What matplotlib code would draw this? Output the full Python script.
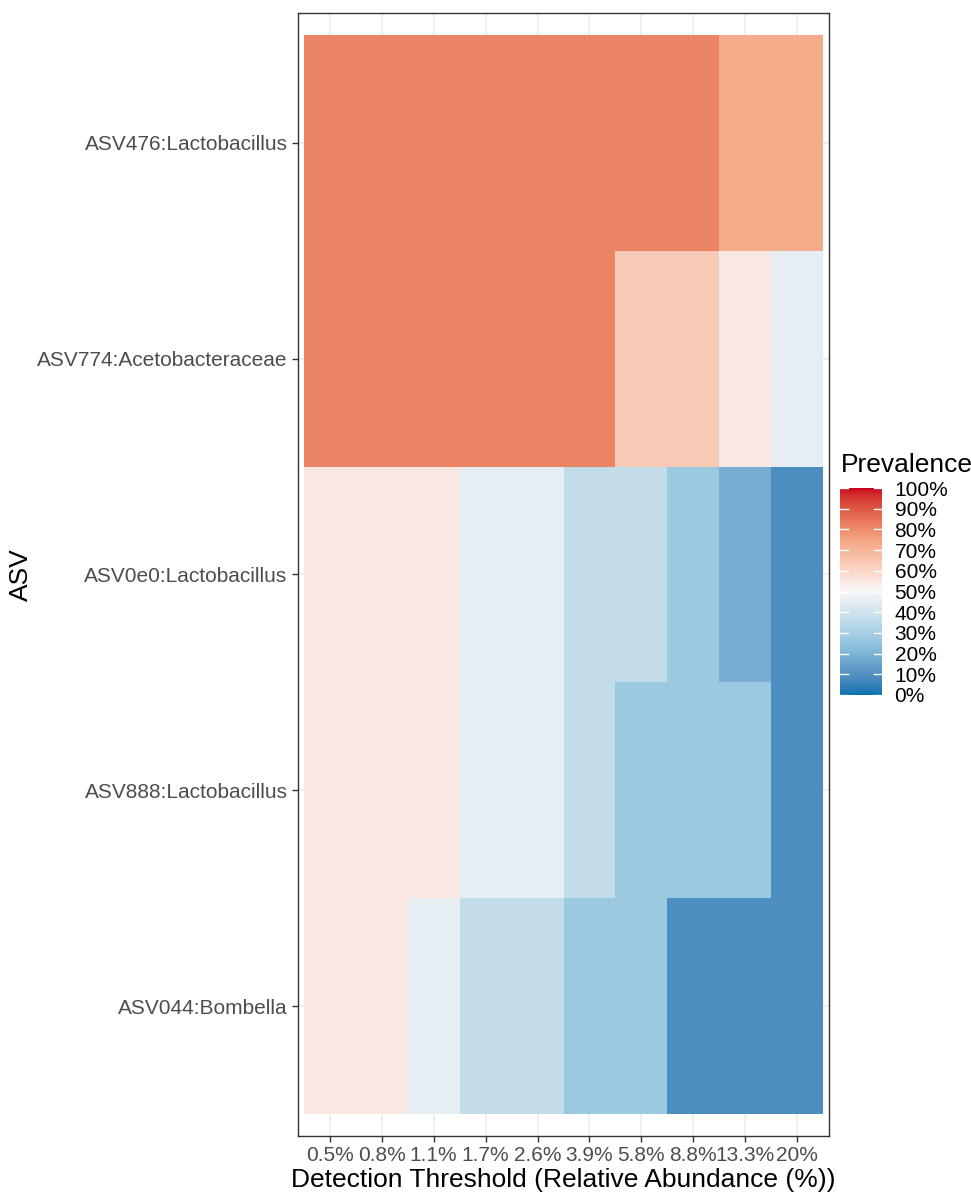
import numpy as np
import matplotlib
matplotlib.use("Agg")
import matplotlib.pyplot as plt
from matplotlib import colors

plt.rcParams['font.family'] = ['Liberation Sans', 'DejaVu Sans']

# thresholds (x) and taxa (y, top to bottom)
thresholds = ['0.5%', '0.8%', '1.1%', '1.7%', '2.6%', '3.9%', '5.8%', '8.8%', '13.3%', '20%']
asvs = ['ASV476:Lactobacillus', 'ASV774:Acetobacteraceae', 'ASV0e0:Lactobacillus',
        'ASV888:Lactobacillus', 'ASV044:Bombella']

# prevalence (%) per taxon, one value per threshold
asv476 = [81.8, 81.8, 81.8, 81.8, 81.8, 81.8, 81.8, 81.8, 72.7, 72.7]
asv774 = [81.8, 81.8, 81.8, 81.8, 81.8, 81.8, 63.6, 63.6, 54.5, 45.5]
asv0e0 = [54.5, 54.5, 54.5, 45.5, 45.5, 36.4, 36.4, 27.3, 18.2, 9.1]
asv888 = [54.5, 54.5, 54.5, 45.5, 45.5, 36.4, 27.3, 27.3, 27.3, 9.1]
asv044 = [54.5, 54.5, 45.5, 36.4, 36.4, 27.3, 27.3, 9.1, 9.1, 9.1]

legend_ticks = [0, 10, 20, 30, 40, 50, 60, 70, 80, 90, 100]
stops = ['#0571B0', '#92C5DE', '#F7F7F7', '#F4A582', '#CA0020']


# colour ramp interpolated in CIELAB space, like ggplot's gradientn
WHITE = np.array([0.95047, 1.0, 1.08883])
M = np.array([[0.4124564, 0.3575761, 0.1804375],
              [0.2126729, 0.7151522, 0.0721750],
              [0.0193339, 0.1191920, 0.9503041]])


def to_lab(rgb):
    c = np.asarray(rgb, dtype=float)
    lin = np.where(c <= 0.04045, c / 12.92, ((c + 0.055) / 1.055) ** 2.4)
    xyz = M @ lin / WHITE
    d = 6 / 29
    f = np.where(xyz > d ** 3, np.cbrt(xyz), xyz / (3 * d * d) + 4 / 29)
    return np.array([116 * f[1] - 16, 500 * (f[0] - f[1]), 200 * (f[1] - f[2])])


def from_lab(lab):
    L, a, b = lab
    fy = (L + 16) / 116
    fx = fy + a / 500
    fz = fy - b / 200
    d = 6 / 29
    f = np.array([fx, fy, fz])
    xyz = np.where(f > d, f ** 3, 3 * d * d * (f - 4 / 29)) * WHITE
    lin = np.linalg.solve(M, xyz)
    lin = np.clip(lin, 0, 1)
    c = np.where(lin <= 0.0031308, 12.92 * lin, 1.055 * lin ** (1 / 2.4) - 0.055)
    return np.clip(c, 0, 1)


labs = [to_lab(colors.to_rgb(s)) for s in stops]
pos = np.linspace(0, 1, len(stops))
ramp = []
for t in np.linspace(0, 1, 256):
    i = min(int(t * (len(stops) - 1)), len(stops) - 2)
    u = (t - pos[i]) / (pos[i + 1] - pos[i])
    ramp.append(from_lab(labs[i] * (1 - u) + labs[i + 1] * u))
cmap = colors.ListedColormap(ramp)
norm = colors.Normalize(vmin=0, vmax=100)

prev = np.array([asv476, asv774, asv0e0, asv888, asv044])

fig = plt.figure(figsize=(9.71, 11.95), dpi=100)
ax = fig.add_axes([298 / 971, 1 - 1136 / 1195, 531 / 971, 1123 / 1195])

ax.set_axisbelow(True)
ax.grid(color='#EBEBEB', lw=1.1)
ax.pcolormesh(np.arange(len(thresholds) + 1) - 0.5, np.arange(len(asvs) + 1) - 0.5, prev,
              cmap=cmap, norm=norm, edgecolors='face', linewidth=0)
ax.set_xlim(-0.61, len(thresholds) - 0.39)
ax.set_ylim(len(asvs) - 0.4, -0.6)

ax.set_xticks(range(len(thresholds)))
ax.set_xticklabels(thresholds)
ax.set_yticks(range(len(asvs)))
ax.set_yticklabels(asvs)
ax.tick_params(length=4.5, width=1.0, color='#333333', labelsize=15, labelcolor='#4D4D4D', pad=3)
for sp in ax.spines.values():
    sp.set_color('#333333')
    sp.set_linewidth(1.0)

ax.set_xlabel('Detection Threshold (Relative Abundance (%))', fontsize=19, labelpad=2)
ax.set_ylabel('ASV', fontsize=19)
ax.yaxis.set_label_coords(-0.50, 0.5)

# legend colour bar
cax = fig.add_axes([840 / 971, 1 - 695 / 1195, 42 / 971, 207 / 1195])
cb = fig.colorbar(plt.cm.ScalarMappable(norm=norm, cmap=cmap), cax=cax)
cb.outline.set_visible(False)
cb.set_ticks(legend_ticks)
cb.set_ticklabels([f'{v}%' for v in legend_ticks])
cax.tick_params(length=0, labelsize=15, pad=9)
for v in legend_ticks:
    cax.plot([0, 0.2], [v, v], color='white', lw=1, transform=cax.get_yaxis_transform())
    cax.plot([0.8, 1], [v, v], color='white', lw=1, transform=cax.get_yaxis_transform())
fig.text(841 / 971, 1 - 465 / 1195, 'Prevalence', fontsize=19, ha='left', va='center')

fig.savefig('out.png', dpi=100)
